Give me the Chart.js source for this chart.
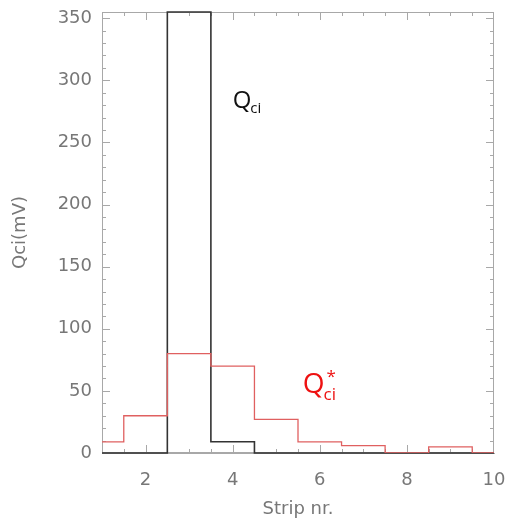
<!DOCTYPE html>
<html>
<head>
<meta charset="utf-8">
<script src="https://cdn.jsdelivr.net/npm/chart.js@4"></script>
<style>
  html, body { margin: 0; padding: 0; background: #fff; }
  #wrap { width: 511px; height: 523px; position: relative; }
</style>
</head>
<body>
<div id="wrap"><canvas id="chart"></canvas></div>
<script>
// strip numbers and the two charge histograms (mV)
const strips = [1, 2, 3, 4, 5, 6, 7, 8, 9, 10];
const qci = [0, 0, 355, 9, 0, 0, 0, 0, 0, 0];
const qciStar = [9, 30, 80, 70, 27, 9, 6, 0, 5, 0];
const xTickValues = [2, 4, 6, 8, 10];
const yTickValues = [0, 50, 100, 150, 200, 250, 300, 350];

const GREY = '#777';
const BOX = '#a8a8a8';

// IDL-like box with inward ticks on all four sides, plus the series labels
const boxTicks = {
  id: 'boxTicks',
  beforeDatasetsDraw(chart) {
    const { ctx, chartArea: a, scales: { x, y } } = chart;
    ctx.save();
    ctx.strokeStyle = BOX;
    ctx.lineWidth = 1;
    ctx.strokeRect(a.left + 0.5, a.top + 0.5, a.right - a.left - 1, a.bottom - a.top - 1);
    ctx.beginPath();
    for (let v = x.min; v <= x.max + 1e-9; v += 0.5) {
      if (v === x.min || v === x.max) continue;
      const len = v % 2 === 0 ? 8 : 4;
      const px = Math.round(x.getPixelForValue(v)) + 0.5;
      ctx.moveTo(px, a.bottom); ctx.lineTo(px, a.bottom - len);
      ctx.moveTo(px, a.top); ctx.lineTo(px, a.top + len);
    }
    for (let v = y.min + 10; v < y.max; v += 10) {
      const len = v % 50 === 0 ? 8 : 4;
      const py = Math.round(y.getPixelForValue(v)) + 0.5;
      ctx.moveTo(a.left, py); ctx.lineTo(a.left + len, py);
      ctx.moveTo(a.right, py); ctx.lineTo(a.right - len, py);
    }
    ctx.stroke();
    ctx.restore();
  },
  afterDraw(chart) {
    const { ctx, scales: { x, y } } = chart;
    ctx.save();
    const label = (txt, sub, sup, xv, yv, color, size) => {
      const px = x.getPixelForValue(xv), py = y.getPixelForValue(yv);
      ctx.fillStyle = color;
      ctx.textBaseline = 'alphabetic';
      ctx.font = size + 'px "Open Sans", sans-serif';
      ctx.fillText(txt, px, py);
      const w = ctx.measureText(txt).width;
      ctx.font = Math.round(size * 0.62) + 'px "Open Sans", sans-serif';
      if (sup) ctx.fillText(sup, px + w + 2, py - size * 0.42);
      ctx.fillText(sub, px + w - 1, py + size * 0.22);
    };
    label('Q', 'ci', '', 4.0, 278, '#111', 24);
    label('Q', 'ci', '*', 5.61, 48, '#ee1111', 28);
    ctx.restore();
  }
};

new Chart(document.getElementById('chart'), {
  type: 'line',
  data: {
    datasets: [
      {
        label: 'Q*ci',
        data: strips.map((s, i) => ({ x: s, y: qciStar[i] })),
        borderColor: '#e06060',
        borderWidth: 1.3,
        stepped: 'middle',
        pointRadius: 0,
        fill: false
      },
      {
        label: 'Qci',
        data: strips.map((s, i) => ({ x: s, y: qci[i] })),
        borderColor: '#333',
        borderWidth: 1.6,
        stepped: 'middle',
        pointRadius: 0,
        fill: false,
        clip: 2
      }
    ]
  },
  options: {
    responsive: true,
    maintainAspectRatio: false,
    animation: false,
    layout: { padding: { left: 0, right: 17, top: 12, bottom: 0 } },
    plugins: { legend: { display: false }, tooltip: { enabled: false } },
    scales: {
      x: {
        type: 'linear', min: 1, max: 10,
        afterBuildTicks: s => { s.ticks = xTickValues.map(v => ({ value: v })); },
        afterFit: s => { s.height = 70; s.paddingLeft = 0; s.paddingRight = 0; },
        grid: { display: false, drawTicks: false },
        border: { display: true, color: BOX },
        ticks: { color: GREY, padding: 17, font: { family: 'DejaVu Sans', size: 18 } },
        title: { display: true, text: 'Strip nr.', color: GREY, padding: { top: 0, bottom: 3 },
                 font: { family: 'DejaVu Sans', size: 18 } }
      },
      y: {
        type: 'linear', min: 0, max: 355,
        afterBuildTicks: s => { s.ticks = yTickValues.map(v => ({ value: v })); },
        afterFit: s => { s.width = 102; s.paddingTop = 0; s.paddingBottom = 0; },
        grid: { display: false, drawTicks: false },
        border: { display: true, color: BOX },
        ticks: { color: GREY, padding: 10, font: { family: 'DejaVu Sans', size: 18 } },
        title: { display: true, text: 'Qci(mV)', color: GREY, padding: { top: 10, bottom: 10 },
                 font: { family: 'DejaVu Sans', size: 18 } }
      }
    }
  },
  plugins: [boxTicks]
});
</script>
</body>
</html>
